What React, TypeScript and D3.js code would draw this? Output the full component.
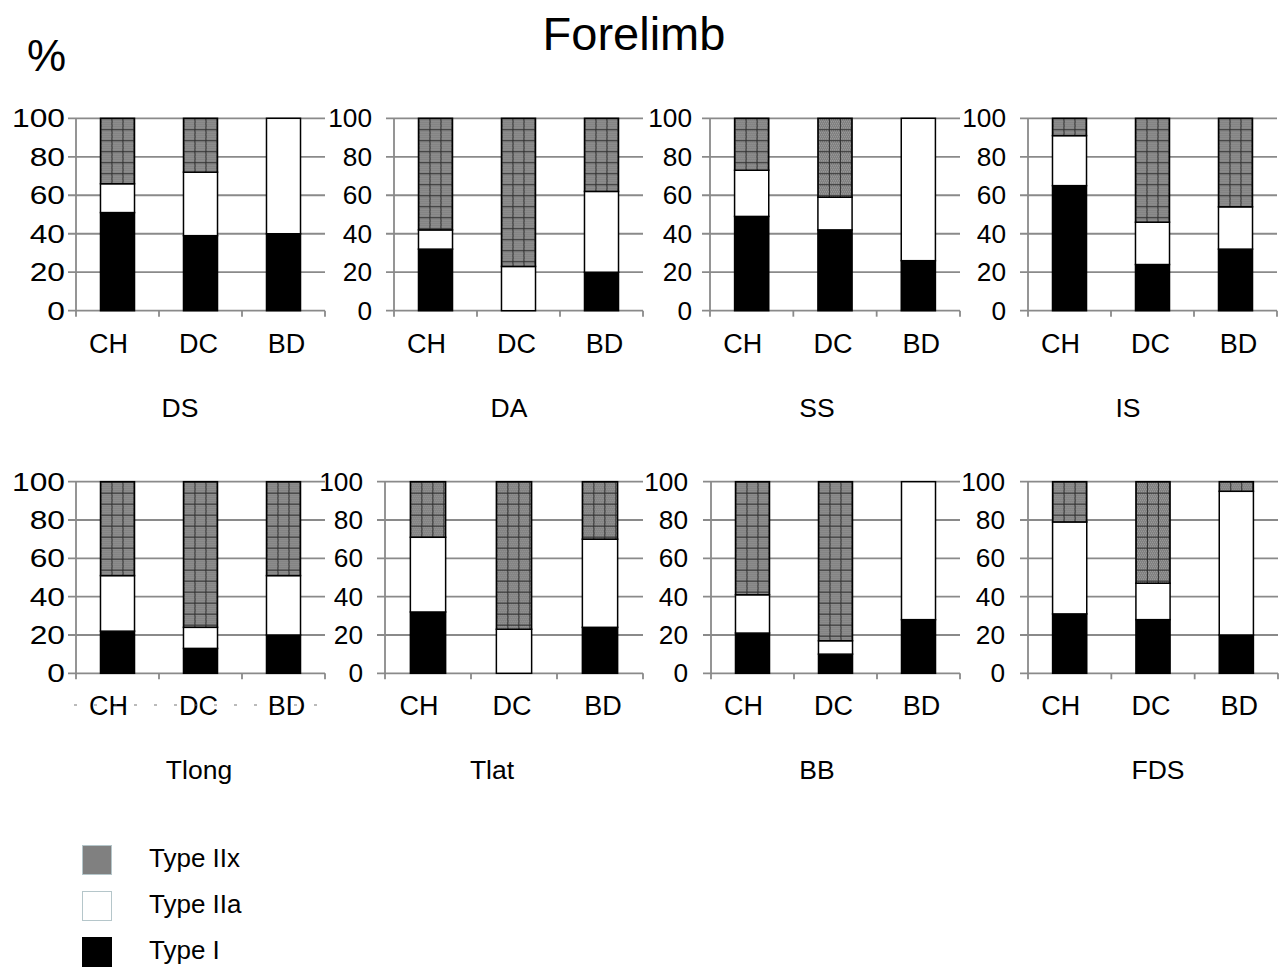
import * as d3 from "d3"
import React from "react"

// muscles in panel order, three groups per panel
const muscles = ["DS", "DA", "SS", "IS", "Tlong", "Tlat", "BB", "FDS"]
const groups = ["CH", "DC", "BD"]
const fibreTypes = ["Type I", "Type IIa", "Type IIx"]
const yTicks = [0, 20, 40, 60, 80, 100]

// % of fibres per group (CH, DC, BD) for each muscle
const typeI = [
  [51, 39, 40],
  [32, 0, 20],
  [49, 42, 26],
  [65, 24, 32],
  [22, 13, 20],
  [32, 0, 24],
  [21, 10, 28],
  [31, 28, 20],
]
const typeIIa = [
  [15, 33, 60],
  [10, 23, 42],
  [24, 17, 74],
  [26, 22, 22],
  [29, 11, 31],
  [39, 23, 46],
  [20, 7, 72],
  [48, 19, 75],
]
const typeIIx = [
  [34, 28, 0],
  [58, 77, 38],
  [27, 41, 0],
  [9, 54, 46],
  [49, 76, 49],
  [29, 77, 30],
  [59, 83, 0],
  [21, 53, 5],
]

// panel placement on the page
const layout = [
  { x: 76, top: 118.3, bottom: 310.7, w: 249, gap: 11, sx: 1.27, nameX: 180 },
  { x: 394, top: 118.3, bottom: 310.7, w: 249, gap: 22, sx: 1.05, nameX: 509 },
  { x: 710, top: 118.3, bottom: 310.7, w: 250, gap: 18, sx: 1.05, nameX: 817 },
  { x: 1028, top: 118.3, bottom: 310.7, w: 249, gap: 22, sx: 1.05, nameX: 1128 },
  { x: 76, top: 481.7, bottom: 673.3, w: 249, gap: 11, sx: 1.27, nameX: 199 },
  { x: 385, top: 481.7, bottom: 673.3, w: 258, gap: 22, sx: 1.05, nameX: 492 },
  { x: 711, top: 481.7, bottom: 673.3, w: 249, gap: 23, sx: 1.05, nameX: 817 },
  { x: 1028, top: 481.7, bottom: 673.3, w: 250, gap: 23, sx: 1.05, nameX: 1158 },
]
const labelShift = [-9, -2, 3]

const font = "'Liberation Sans', Arial, sans-serif"
const gridColor = "#8a8a8a"

const Hatch = ({ id, x, y }) => {
  const dots = []
  for (let yy = 1; yy < 11; yy += 2) {
    for (let xx = 1 + ((yy - 1) / 2) % 2; xx < 11; xx += 2) {
      dots.push(<rect key={xx + "-" + yy} x={xx} y={yy} width={1} height={1} fill="#a6a6a6" />)
    }
  }
  return (
    <pattern id={id} x={x} y={y} width={11} height={11} patternUnits="userSpaceOnUse">
      <rect width={11} height={11} fill="#7e7e7e" />
      {dots}
      <rect width={11} height={1} fill="#2e2e2e" />
      <rect width={1} height={11} fill="#2e2e2e" />
    </pattern>
  )
}

const Panel = ({ p }) => {
  const L = layout[p]
  const x = d3
    .scaleBand()
    .domain(groups)
    .range([L.x, L.x + L.w])
    .paddingInner(0.59)
    .paddingOuter(0.295)
  const y = d3.scaleLinear().domain([0, 100]).range([L.bottom, L.top])

  const rows = groups.map((g, i) => ({
    group: g,
    "Type I": typeI[p][i],
    "Type IIa": typeIIa[p][i],
    "Type IIx": typeIIx[p][i],
  }))
  const series = d3.stack().keys(fibreTypes)(rows)
  const fills = {
    "Type I": () => "#000",
    "Type IIa": () => "#fff",
    "Type IIx": (i) => `url(#hatch-${p}-${i})`,
  }

  return (
    <g>
      <defs>
        {groups.map((g, i) => (
          <Hatch key={g} id={`hatch-${p}-${i}`} x={x(g)} y={L.top} />
        ))}
      </defs>
      {yTicks.map((t) => (
        <line
          key={t}
          x1={L.x - 8}
          x2={L.x + L.w}
          y1={y(t)}
          y2={y(t)}
          stroke={gridColor}
          strokeWidth={1.8}
        />
      ))}
      <line x1={L.x} x2={L.x} y1={L.top} y2={L.bottom + 6} stroke={gridColor} strokeWidth={1.8} />
      {[1, 2, 3].map((k) => (
        <line
          key={k}
          x1={L.x + (k * L.w) / 3}
          x2={L.x + (k * L.w) / 3}
          y1={L.bottom}
          y2={L.bottom + 6}
          stroke={gridColor}
          strokeWidth={1.8}
        />
      ))}
      {yTicks.map((t) => (
        <text
          key={t}
          transform={`translate(${L.x - L.gap},${y(t)}) scale(${L.sx},1)`}
          dy="0.36em"
          textAnchor="end"
          fontSize={25}
          fontFamily={font}
        >
          {t}
        </text>
      ))}
      {series.map((s) =>
        s.map((d, i) =>
          d[1] - d[0] > 0 ? (
            <rect
              key={s.key + i}
              x={x(d.data.group)}
              y={y(d[1])}
              width={x.bandwidth()}
              height={y(d[0]) - y(d[1])}
              fill={fills[s.key](i)}
              stroke="#000"
              strokeWidth={1.5}
            />
          ) : null
        )
      )}
      {groups.map((g, i) => (
        <text
          key={g}
          x={x(g) + x.bandwidth() / 2 + labelShift[i]}
          y={L.bottom + 42}
          textAnchor="middle"
          fontSize={27}
          fontFamily={font}
        >
          {g}
        </text>
      ))}
      <text x={L.nameX} y={L.bottom + 106} textAnchor="middle" fontSize={26.5} fontFamily={font}>
        {muscles[p]}
      </text>
    </g>
  )
}

const legendItems = [
  { label: "Type IIx", fill: "#808080", stroke: "#b5c6ca" },
  { label: "Type IIa", fill: "#fff", stroke: "#b5c6ca" },
  { label: "Type I", fill: "#000", stroke: "#000" },
]

export default function App() {
  return (
    <svg
      width={1283}
      height={967}
      style={{ position: "absolute", left: 0, top: 0, background: "#fff" }}
    >
      <rect width={1283} height={967} fill="#fff" />
      <text x={634} y={50} textAnchor="middle" fontSize={47} fontFamily={font}>
        Forelimb
      </text>
      <text x={27} y={71} fontSize={44} fontFamily={font}>
        %
      </text>
      {muscles.map((m, p) => (
        <Panel key={m} p={p} />
      ))}
      <line
        x1={74}
        x2={326}
        y1={705}
        y2={705}
        stroke="#777"
        strokeWidth={1}
        strokeDasharray="3,17"
      />
      {legendItems.map((it, i) => (
        <g key={it.label} transform={`translate(82,${845 + i * 46})`}>
          <rect x={0.5} y={0.5} width={29} height={29} fill={it.fill} stroke={it.stroke} strokeWidth={1} />
          <text x={67} y={22} fontSize={26} fontFamily={font}>
            {it.label}
          </text>
        </g>
      ))}
    </svg>
  )
}
